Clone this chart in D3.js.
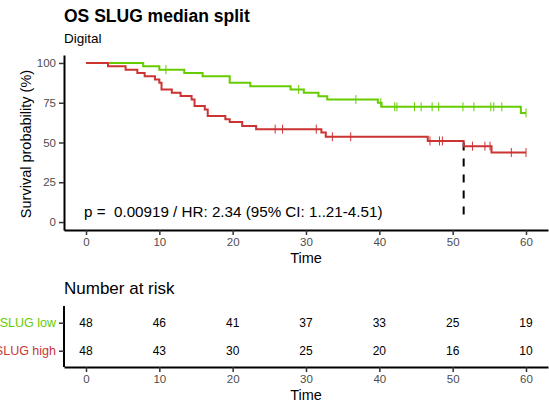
<!DOCTYPE html>
<html>
<head>
<meta charset="utf-8">
<script src="https://cdn.jsdelivr.net/npm/d3@7"></script>
<style>
  body { margin: 0; background: #fff; }
  text { font-family: "Liberation Sans", Arial, Helvetica, sans-serif; }
</style>
</head>
<body>
<svg id="chart" width="549" height="405"></svg>
<script>
// ---- data ----
var groups = ["SLUG low", "SLUG high"];
var groupColors = ["#66cc00", "#cc3333"];

// step points [time, survival %]
var lowSteps = [[0, 100], [7.8, 97.9], [10.0, 95.8], [13.4, 93.75], [15.9, 91.7], [19.6, 87.5],
  [22.4, 85.4], [27.9, 83.3], [29.7, 81.2], [31.7, 79.1], [32.9, 77.0], [39.8, 75.0],
  [40.3, 72.4], [59.3, 68.6], [60, 68.6]];
var highSteps = [[0, 100], [3.0, 97.9], [5.4, 95.8], [7.0, 93.75], [8.0, 91.7], [9.4, 89.6],
  [10.0, 87.5], [10.3, 83.3], [11.7, 81.25], [12.9, 79.2], [14.4, 77.1], [14.8, 72.9],
  [16.2, 70.8], [16.6, 66.7], [19.0, 64.6], [19.6, 62.9], [21.3, 60.4], [23.2, 58.4],
  [32.1, 56.3], [32.7, 53.6], [46.6, 51.0], [51.5, 47.7], [55.3, 43.7], [60, 43.7]];

// censoring times
var lowCensor = [10.9, 29.0, 36.8, 40.2, 42.1, 42.4, 44.8, 45.7, 47.2, 48.1, 51.4, 52.9, 55.2, 55.6, 56.7, 60];
var highCensor = [25.8, 26.8, 31.4, 33.6, 36.1, 46.9, 48.2, 48.6, 52.7, 54.4, 55.1, 58.0, 60];

var medianTime = 51.5;

var yTicks = [0, 25, 50, 75, 100];
var xTicks = [0, 10, 20, 30, 40, 50, 60];
var riskLow = [48, 46, 41, 37, 33, 25, 19];
var riskHigh = [48, 43, 30, 25, 20, 16, 10];

var titleText = "OS SLUG median split";
var subtitleText = "Digital";
var statText = "p =  0.00919 / HR: 2.34 (95% CI: 1..21-4.51)";

// ---- drawing ----
var svg = d3.select("#chart");
var x = d3.scaleLinear().domain([-3, 63]).range([64, 548]);
var y = d3.scaleLinear().domain([-5, 105]).range([230, 55]);

svg.append("text").attr("x", 64).attr("y", 22)
  .attr("font-size", "17.5px").attr("font-weight", "bold").text(titleText);
svg.append("text").attr("x", 64).attr("y", 43)
  .attr("font-size", "13.5px").text(subtitleText);

// survival curves
var stepLine = d3.line()
  .x(function(d) { return x(d[0]); })
  .y(function(d) { return y(d[1]); })
  .curve(d3.curveStepAfter);

var allSteps = [lowSteps, highSteps];
var allCensor = [lowCensor, highCensor];

function survAt(steps, t) {
  var v = steps[0][1];
  for (var i = 0; i < steps.length; i++) {
    if (steps[i][0] <= t) v = steps[i][1];
  }
  return v;
}

// median line
svg.append("line")
  .attr("x1", x(medianTime)).attr("x2", x(medianTime))
  .attr("y1", y(50)).attr("y2", y(0))
  .attr("stroke", "#000").attr("stroke-width", 2)
  .attr("stroke-dasharray", "8,8");

allSteps.forEach(function(steps, gi) {
  svg.append("path")
    .attr("d", stepLine(steps))
    .attr("fill", "none")
    .attr("stroke", groupColors[gi])
    .attr("stroke-width", 2);
  svg.selectAll(null).data(allCensor[gi]).enter().append("line")
    .attr("x1", function(d) { return x(d); })
    .attr("x2", function(d) { return x(d); })
    .attr("y1", function(d) { return y(survAt(steps, d)) - 4.5; })
    .attr("y2", function(d) { return y(survAt(steps, d)) + 4.5; })
    .attr("stroke", groupColors[gi])
    .attr("stroke-width", 1);
});

// axes of main plot
var yAxis = svg.append("g").attr("transform", "translate(64,0)")
  .call(d3.axisLeft(y).tickValues(yTicks).tickSizeInner(5).tickSizeOuter(0).tickPadding(3));
var xAxis = svg.append("g").attr("transform", "translate(0,230)")
  .call(d3.axisBottom(x).tickValues(xTicks).tickSizeInner(5).tickSizeOuter(0).tickPadding(3));

[yAxis, xAxis].forEach(function(ax) {
  ax.select(".domain").attr("stroke", "#000").attr("stroke-width", 2);
  ax.selectAll(".tick line").attr("stroke", "#333").attr("stroke-width", 1.5);
  ax.selectAll(".tick text").attr("fill", "#4d4d4d").attr("font-size", "11.5px")
    .attr("font-family", "Liberation Sans, Arial, sans-serif");
});

svg.append("text").attr("transform", "translate(31,144) rotate(-90)")
  .attr("text-anchor", "middle").attr("font-size", "14.5px").text("Survival probability (%)");
svg.append("text").attr("x", 306).attr("y", 263)
  .attr("text-anchor", "middle").attr("font-size", "14.5px").text("Time");

svg.append("text").attr("x", 84).attr("y", 217)
  .attr("font-size", "15.2px").attr("xml:space", "preserve").style("white-space", "pre")
  .text(statText);

// ---- risk table ----
svg.append("text").attr("x", 64).attr("y", 294)
  .attr("font-size", "17px").text("Number at risk");

var yrAxis = d3.scalePoint().domain(groups).range([322.7, 350.7]);

var riskRows = [riskLow, riskHigh];
riskRows.forEach(function(row, gi) {
  svg.selectAll(null).data(row).enter().append("text")
    .attr("x", function(d, i) { return x(xTicks[i]); })
    .attr("y", yrAxis(groups[gi]) + 4.3)
    .attr("text-anchor", "middle")
    .attr("font-size", "12px")
    .text(function(d) { return d; });
});

var rAxisL = svg.append("g").attr("transform", "translate(64,0)")
  .call(d3.axisLeft(yrAxis).tickSizeInner(5).tickSizeOuter(0).tickPadding(3));
rAxisL.select(".domain").attr("d", "M0,306V367");
rAxisL.selectAll(".tick text").attr("font-size", "12.5px")
  .attr("font-family", "Liberation Sans, Arial, sans-serif")
  .attr("fill", function(d) { return groupColors[groups.indexOf(d)]; });

var rAxisB = svg.append("g").attr("transform", "translate(0,367)")
  .call(d3.axisBottom(x).tickValues(xTicks).tickSizeInner(5).tickSizeOuter(0).tickPadding(3));
rAxisB.selectAll(".tick text").attr("fill", "#4d4d4d").attr("font-size", "11.5px")
  .attr("font-family", "Liberation Sans, Arial, sans-serif");

[rAxisL, rAxisB].forEach(function(ax) {
  ax.select(".domain").attr("stroke", "#000").attr("stroke-width", 2);
  ax.selectAll(".tick line").attr("stroke", "#333").attr("stroke-width", 1.5);
});

svg.append("text").attr("x", 306).attr("y", 400)
  .attr("text-anchor", "middle").attr("font-size", "14.5px").text("Time");
</script>
</body>
</html>
